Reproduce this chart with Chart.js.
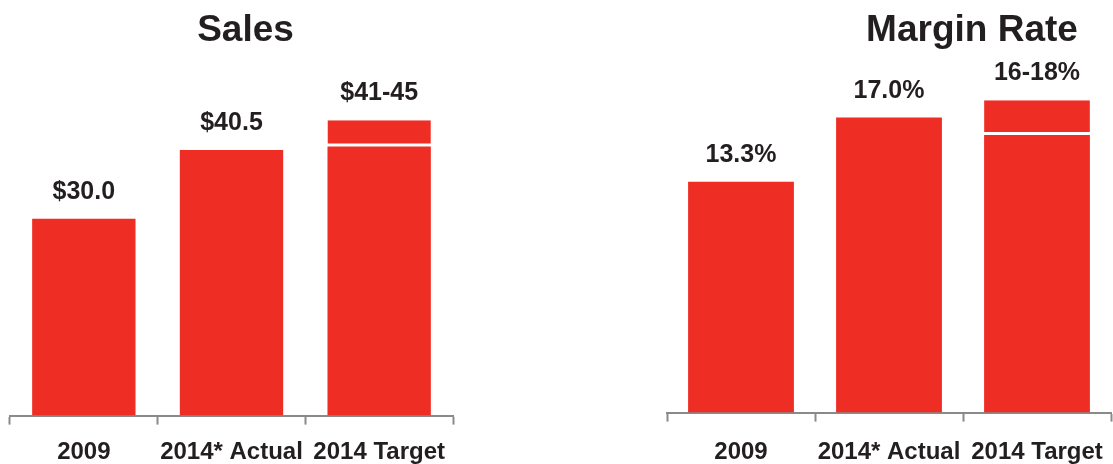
<!DOCTYPE html>
<html>
<head>
<meta charset="utf-8">
<script src="https://cdn.jsdelivr.net/npm/chart.js@4"></script>
<style>
  html, body { margin: 0; padding: 0; background: #fff; }
  body { width: 1113px; height: 464px; position: relative; overflow: hidden; }
  .box { position: absolute; top: 0; }
  #salesBox { left: 0; width: 465px; height: 481px; }
  #marginBox { left: 657px; width: 456px; height: 484px; }
</style>
</head>
<body>
<div class="box" id="salesBox"><canvas id="sales"></canvas></div>
<div class="box" id="marginBox"><canvas id="margin"></canvas></div>
<script>
var categories = ['2009', '2014* Actual', '2014 Target'];

var salesValues = [30.0, 40.5, 41];
var salesTargetRange = [null, null, [41, 45]];
var salesLabels = ['$30.0', '$40.5', '$41-45'];

var marginValues = [13.3, 17.0, 16];
var marginTargetRange = [null, null, [16, 18]];
var marginLabels = ['13.3%', '17.0%', '16-18%'];

var RED = '#ee2e24';
var INK = '#231f20';
var AXIS = '#8a8a8a';
var FONT = '"Liberation Sans", Arial, Helvetica, sans-serif';

// heading + value text above each bar (top-most bar per category)
var valueLabels = {
    id: 'valueLabels',
    afterDatasetsDraw: function (chart, args, opts) {
        var ctx = chart.ctx;
        var area = chart.chartArea;
        var metas = chart.getSortedVisibleDatasetMetas();
        ctx.save();
        ctx.fillStyle = INK;
        ctx.textAlign = 'center';
        ctx.textBaseline = 'alphabetic';

        ctx.font = 'bold 37px ' + FONT;
        ctx.fillText(opts.title, (area.left + area.right) / 2 + opts.titleShift, 41);

        ctx.font = 'bold 25px ' + FONT;
        opts.labels.forEach(function (text, i) {
            var top = null, x = null;
            metas.forEach(function (meta) {
                var raw = chart.data.datasets[meta.index].data[i];
                if (raw === null || raw === undefined) return;
                var el = meta.data[i];
                if (top === null || el.y < top) { top = el.y; x = el.x; }
            });
            ctx.fillText(text, x, top - opts.gap);
        });
        ctx.restore();
    }
};

function makeChart(id, title, titleShift, values, range, labels, yMax, pad, barPct, tickPad) {
    var ctx = document.getElementById(id).getContext('2d');
    return new Chart(ctx, {
        type: 'bar',
        data: {
            labels: categories,
            datasets: [{
                data: values,
                backgroundColor: RED,
                borderWidth: 0,
                grouped: false,
                barPercentage: barPct,
                categoryPercentage: 1
            }, {
                data: range,
                backgroundColor: RED,
                borderColor: '#ffffff',
                borderWidth: { top: 0, left: 0, right: 0, bottom: 3 },
                borderSkipped: false,
                grouped: false,
                barPercentage: barPct,
                categoryPercentage: 1
            }]
        },
        options: {
            responsive: true,
            maintainAspectRatio: false,
            animation: false,
            layout: { padding: { left: pad[0], right: pad[1], top: 60, bottom: 0 } },
            plugins: {
                legend: { display: false },
                tooltip: { enabled: false },
                title: { display: false },
                valueLabels: { labels: labels, gap: 20, title: title, titleShift: titleShift }
            },
            scales: {
                x: {
                    // labels fit inside the categories, no extra side padding wanted
                    afterFit: function (scale) {
                        scale.paddingLeft = 0;
                        scale.paddingRight = 0;
                    },
                    grid: {
                        drawOnChartArea: false,
                        drawTicks: true,
                        tickLength: 9,
                        tickWidth: 2,
                        color: AXIS,
                        offset: true
                    },
                    border: { display: true, color: AXIS, width: 2 },
                    ticks: {
                        color: INK,
                        padding: tickPad,
                        maxRotation: 0,
                        minRotation: 0,
                        autoSkip: false,
                        font: { family: FONT, size: 24, weight: 'bold', lineHeight: 1.15 }
                    }
                },
                y: {
                    display: false,
                    min: 0,
                    max: yMax
                }
            }
        },
        plugins: [valueLabels]
    });
}

makeChart('sales', 'Sales', 14, salesValues, salesTargetRange, salesLabels, 54.2, [10, 12], 0.7, 14.4);
makeChart('margin', 'Margin Rate', 83, marginValues, marginTargetRange, marginLabels, 20.32, [10, 2], 0.715, 17.4);
</script>
</body>
</html>
